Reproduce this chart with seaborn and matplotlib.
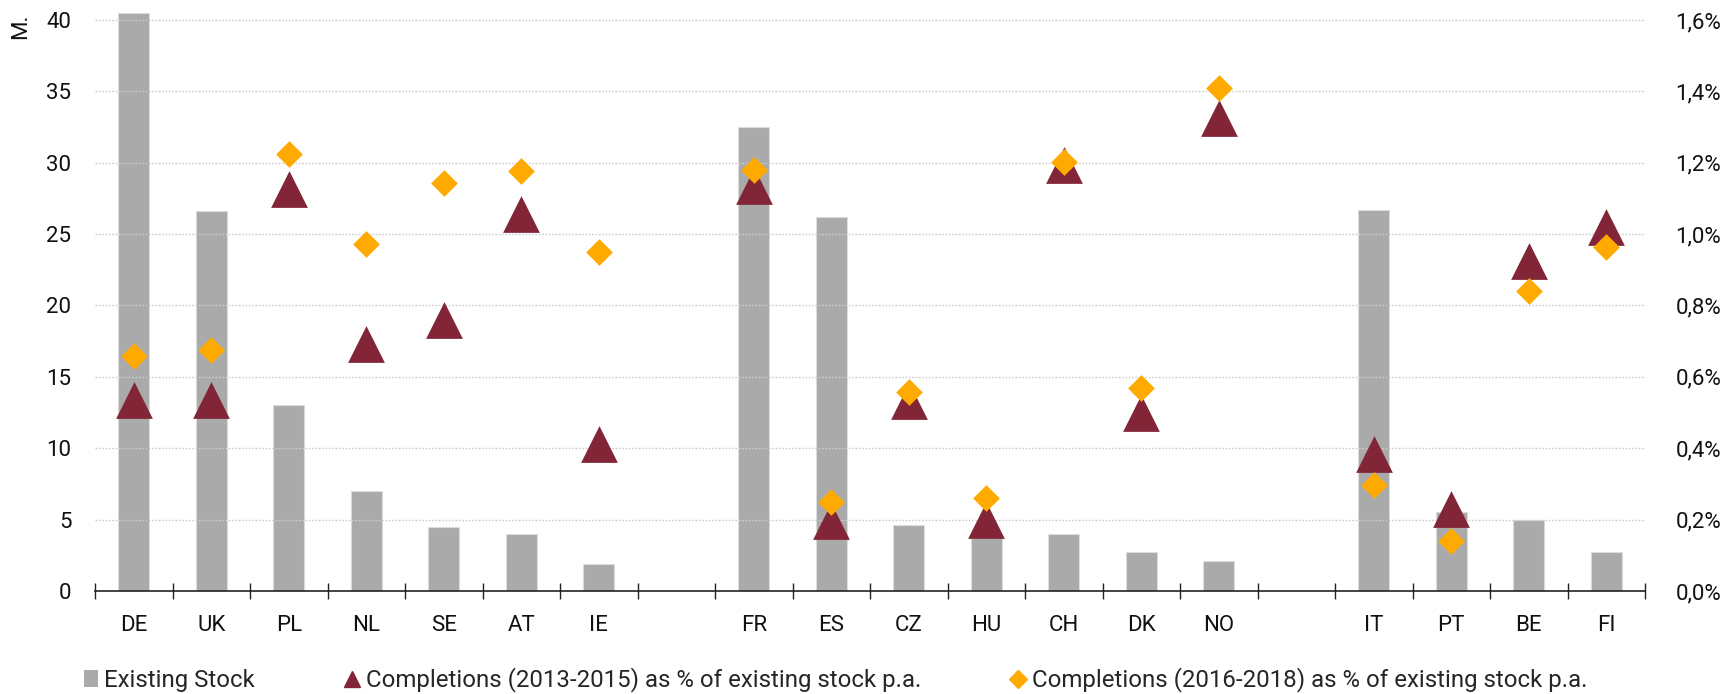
import numpy as np
import pandas as pd
import matplotlib
matplotlib.use("Agg")
import matplotlib.pyplot as plt
from matplotlib.ticker import FuncFormatter, FixedLocator
from matplotlib.lines import Line2D
from matplotlib.patches import Patch
import seaborn as sns

# Country groups, separated by an empty slot
countries = ["DE", "UK", "PL", "NL", "SE", "AT", "IE", "",
             "FR", "ES", "CZ", "HU", "CH", "DK", "NO", "",
             "IT", "PT", "BE", "FI"]

# Existing stock (million units)
existing_stock = [40.5, 26.6, 13.0, 7.0, 4.5, 4.0, 1.9, np.nan,
                  32.5, 26.2, 4.6, 3.7, 4.0, 2.7, 2.1, np.nan,
                  26.7, 5.5, 4.95, 2.7]

# Completions as % of existing stock p.a.
completions_2013_2015 = [0.535, 0.535, 1.127, 0.693, 0.759, 1.056, 0.413, np.nan,
                         1.134, 0.197, 0.531, 0.198, 1.194, 0.498, 1.325, np.nan,
                         0.383, 0.231, 0.925, 1.019]
completions_2016_2018 = [0.659, 0.675, 1.224, 0.973, 1.143, 1.176, 0.949, np.nan,
                         1.180, 0.248, 0.558, 0.260, 1.201, 0.568, 1.409, np.nan,
                         0.298, 0.140, 0.841, 0.965]

left_ticks = [0, 5, 10, 15, 20, 25, 30, 35, 40]

label_stock = "Existing Stock"
label_1315 = "Completions (2013-2015) as % of existing stock p.a."
label_1618 = "Completions (2016-2018) as % of existing stock p.a."

df = pd.DataFrame({
    "pos": np.arange(len(countries)),
    "country": countries,
    "stock": existing_stock,
    "c1315": completions_2013_2015,
    "c1618": completions_2016_2018,
})

sns.set_theme(style="white")
plt.rcParams["font.family"] = ["Roboto", "DejaVu Sans"]
FS = 16
LEG_FS = 17.3

BAR = "#aaaaaa"
MAROON = "#822537"
ORANGE = "#ffaa00"
GRID = "#cdcdcd"

fig = plt.figure(figsize=(17.36, 6.94), dpi=100)
ax = fig.add_axes([95 / 1736, 103 / 694, 1550 / 1736, 579.6 / 694])

sns.barplot(data=df, x="pos", y="stock", native_scale=True, width=0.4,
            color=BAR, saturation=1, edgecolor="#dcdcdc", linewidth=0.8,
            ax=ax, zorder=1)

n = len(countries)
ax.set_xlim(-0.5, n - 0.5)
ax.set_ylim(0, 40.6)
ax.set_yticks(left_ticks)
ax.set_xlabel("")
ax.set_ylabel("")

# dotted horizontal grid drawn over the bars
for v in left_ticks[1:]:
    ax.axhline(v, color=GRID, lw=1.0, ls=(0, (1.2, 1.2)), zorder=2)

for s in ["left", "right", "top"]:
    ax.spines[s].set_visible(False)
ax.spines["bottom"].set_color("#222222")
ax.spines["bottom"].set_linewidth(1.2)
ax.spines["bottom"].set_zorder(5)

# category labels at centres, tick marks at boundaries
ax.xaxis.set_major_locator(FixedLocator(df["pos"].tolist()))
ax.set_xticklabels(countries)
ax.xaxis.set_minor_locator(FixedLocator(np.arange(-0.5, n, 1.0).tolist()))
ax.tick_params(axis="x", which="major", length=0, pad=17, labelsize=FS,
               labelcolor="#111111")
ax.tick_params(axis="x", which="minor", direction="inout", length=12,
               width=1.0, color="#222222", bottom=True)
ax.tick_params(axis="y", length=0, pad=17, labelsize=FS, labelcolor="#111111")

# markers on the secondary axis
ax2 = ax.twinx()
ax2.set_zorder(ax.get_zorder() + 1)
ax2.patch.set_visible(False)
sns.scatterplot(data=df, x="pos", y="c1315", marker="^", s=700,
                color=MAROON, edgecolor=MAROON, linewidth=0, ax=ax2,
                legend=False)
sns.scatterplot(data=df, x="pos", y="c1618", marker="D", s=185,
                color=ORANGE, edgecolor=ORANGE, linewidth=0, ax=ax2,
                legend=False)
ax2.set_ylim(0, 40.6 * 0.04)
ax2.set_yticks([0, 0.2, 0.4, 0.6, 0.8, 1.0, 1.2, 1.4, 1.6])
ax2.yaxis.set_major_formatter(
    FuncFormatter(lambda v, _: f"{v:.1f}%".replace(".", ",")))
ax2.set_xlim(-0.5, n - 0.5)
ax2.set_xlabel("")
ax2.set_ylabel("")
for s in ["left", "right", "top", "bottom"]:
    ax2.spines[s].set_visible(False)
ax2.tick_params(axis="y", length=0, pad=22, labelsize=FS, labelcolor="#111111")
ax2.grid(False)

fig.text(21 / 1736, 1 - 26 / 694, "M.", rotation=90, fontsize=FS,
         ha="center", va="center", color="#111111")

handles = [
    Patch(facecolor=BAR, edgecolor="none", label=label_stock),
    Line2D([], [], marker="^", ls="none", color=MAROON, markersize=12,
           label=label_1315),
    Line2D([], [], marker="D", ls="none", color=ORANGE, markersize=9,
           label=label_1618),
]
fig.legend(handles=handles, loc="center left",
           bbox_to_anchor=(84 / 1736, 1 - 680 / 694), ncol=3, frameon=False,
           fontsize=LEG_FS, handlelength=0.6, handletextpad=0.25,
           columnspacing=3.75, borderaxespad=0, borderpad=0)

fig.savefig("out.png", dpi=100)
